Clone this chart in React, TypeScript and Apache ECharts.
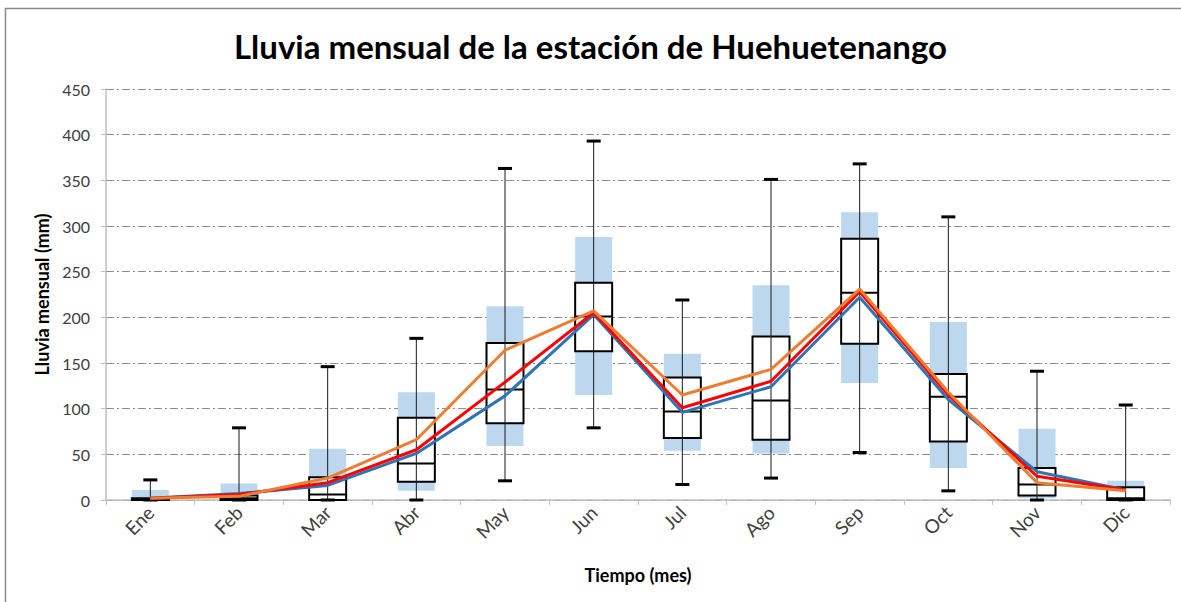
import React, { useEffect, useRef } from "react";
import * as echarts from "echarts";

const months = ["Ene", "Feb", "Mar", "Abr", "May", "Jun", "Jul", "Ago", "Sep", "Oct", "Nov", "Dic"];
const whiskerMin = [0, 0, 0, 0, 21, 79, 17, 24, 52, 10, 0, 0];
const q1 = [0, 0, 0, 20, 84, 163, 68, 66, 171, 64, 5, 0];
const median = [1, 2, 6, 40, 121, 201, 97, 109, 227, 113, 17, 2];
const q3 = [2, 5, 25, 90, 172, 238, 134, 179, 286, 138, 35, 14];
const whiskerMax = [22, 79, 146, 177, 363, 393, 219, 351, 368, 310, 141, 104];
const bandLow = [0, 0, 0, 10, 59, 115, 54, 51, 128, 35, 2, 0];
const bandHigh = [11, 18, 56, 118, 212, 288, 160, 235, 315, 195, 78, 21];
const blueLine = [2, 7, 16, 51, 114, 203, 96, 124, 222, 110, 31, 11];
const redLine = [2, 6, 19, 55, 129, 205, 101, 130, 228, 115, 26, 11];
const orangeLine = [2, 4, 24, 66, 164, 207, 115, 143, 231, 118, 19, 10];
const yTicks = [0, 50, 100, 150, 200, 250, 300, 350, 400, 450];

const FONT = "Lato, 'Open Sans', sans-serif";

export default function App() {
  const ref = useRef<HTMLDivElement>(null);
  useEffect(() => {
    if (!ref.current) return;
    const chart = echarts.init(ref.current, undefined, { renderer: "svg" });
    const boxData = months.map((_, i) => [i, whiskerMin[i], q1[i], median[i], q3[i], whiskerMax[i]]);
    const option: any = {
      animation: false,
      backgroundColor: "#ffffff",
      title: {
        text: "Lluvia mensual de la estación de Huehuetenango",
        left: "center",
        top: 24,
        textStyle: { fontFamily: FONT, fontSize: 33, fontWeight: "bold", color: "#000" },
      },
      graphic: [
        {
          type: "rect",
          shape: { x: 5.5, y: 8.5, width: 1200, height: 620 },
          style: { fill: "none", stroke: "#8c8c8c", lineWidth: 1.5 },
          silent: true,
          z: 100,
        },
      ],
      grid: { left: 106, right: 11, top: 89, bottom: 102, containLabel: false },
      xAxis: {
        type: "category",
        data: months,
        boundaryGap: true,
        name: "Tiempo (mes)",
        nameLocation: "middle",
        nameGap: 66,
        nameTextStyle: { fontFamily: FONT, fontSize: 18, fontWeight: "bold", color: "#000" },
        axisLine: { lineStyle: { color: "#bfbfbf", width: 1.5 } },
        axisTick: { show: true, length: 5, interval: 0, lineStyle: { color: "#bfbfbf" } },
        axisLabel: {
          rotate: 45,
          interval: 0,
          margin: 9,
          fontFamily: FONT,
          fontSize: 19,
          color: "#404040",
        },
        splitLine: { show: false },
      },
      yAxis: {
        type: "value",
        min: yTicks[0],
        max: yTicks[yTicks.length - 1],
        interval: 50,
        name: "Lluvia mensual (mm)",
        nameLocation: "middle",
        nameGap: 52,
        nameTextStyle: { fontFamily: FONT, fontSize: 18, fontWeight: "bold", color: "#000" },
        axisLine: { show: true, lineStyle: { color: "#bfbfbf", width: 1.5 } },
        axisTick: { show: true, length: 5, lineStyle: { color: "#bfbfbf" } },
        axisLabel: { fontFamily: FONT, fontSize: 16, color: "#404040", margin: 16 },
        splitLine: {
          show: true,
          lineStyle: { color: "#8c8c8c", width: 1, type: [8, 3, 2, 3] },
        },
      },
      series: [
        {
          name: "base",
          type: "bar",
          stack: "band",
          barWidth: 37,
          silent: true,
          z: 2,
          itemStyle: { color: "transparent" },
          data: bandLow,
        },
        {
          name: "rango",
          type: "bar",
          stack: "band",
          barWidth: 37,
          z: 2,
          itemStyle: { color: "#bdd7ee" },
          data: bandHigh.map((h, i) => h - bandLow[i]),
        },
        {
          name: "caja",
          type: "custom",
          z: 5,
          data: boxData,
          renderItem: (params: any, api: any) => {
            const idx = api.value(0);
            const pMin = api.coord([idx, api.value(1)]);
            const pQ1 = api.coord([idx, api.value(2)]);
            const pMed = api.coord([idx, api.value(3)]);
            const pQ3 = api.coord([idx, api.value(4)]);
            const pMax = api.coord([idx, api.value(5)]);
            const w = 37;
            const cx = pMin[0];
            const capW = 14;
            return {
              type: "group",
              children: [
                {
                  type: "rect",
                  shape: { x: cx - w / 2, y: pQ3[1], width: w, height: pQ1[1] - pQ3[1] },
                  style: { fill: "#ffffff", stroke: "#000", lineWidth: 2 },
                },
                {
                  type: "line",
                  shape: { x1: cx - w / 2, y1: pMed[1], x2: cx + w / 2, y2: pMed[1] },
                  style: { stroke: "#000", lineWidth: 2 },
                },
                {
                  type: "line",
                  shape: { x1: cx, y1: pMax[1], x2: cx, y2: pMin[1] },
                  style: { stroke: "#1a1a1a", lineWidth: 1 },
                },
                {
                  type: "line",
                  shape: { x1: cx - capW / 2, y1: pMax[1], x2: cx + capW / 2, y2: pMax[1] },
                  style: { stroke: "#000", lineWidth: 3 },
                },
                {
                  type: "line",
                  shape: { x1: cx - capW / 2, y1: pMin[1], x2: cx + capW / 2, y2: pMin[1] },
                  style: { stroke: "#000", lineWidth: 3 },
                },
              ],
            };
          },
        },
        {
          name: "Serie azul",
          type: "line",
          z: 8,
          data: blueLine,
          showSymbol: false,
          symbol: "none",
          lineStyle: { color: "#2e75b6", width: 3 },
          itemStyle: { color: "#2e75b6" },
        },
        {
          name: "Serie roja",
          type: "line",
          z: 9,
          data: redLine,
          showSymbol: false,
          symbol: "none",
          lineStyle: { color: "#ff0000", width: 3 },
          itemStyle: { color: "#ff0000" },
        },
        {
          name: "Serie naranja",
          type: "line",
          z: 10,
          data: orangeLine,
          showSymbol: false,
          symbol: "none",
          lineStyle: { color: "#ed7d31", width: 3 },
          itemStyle: { color: "#ed7d31" },
        },
      ],
    };
    chart.setOption(option);
    return () => chart.dispose();
  }, []);
  return (
    <div
      ref={ref}
      style={{ position: "fixed", left: 0, top: 0, width: 1181, height: 602, background: "#fff" }}
    />
  );
}
